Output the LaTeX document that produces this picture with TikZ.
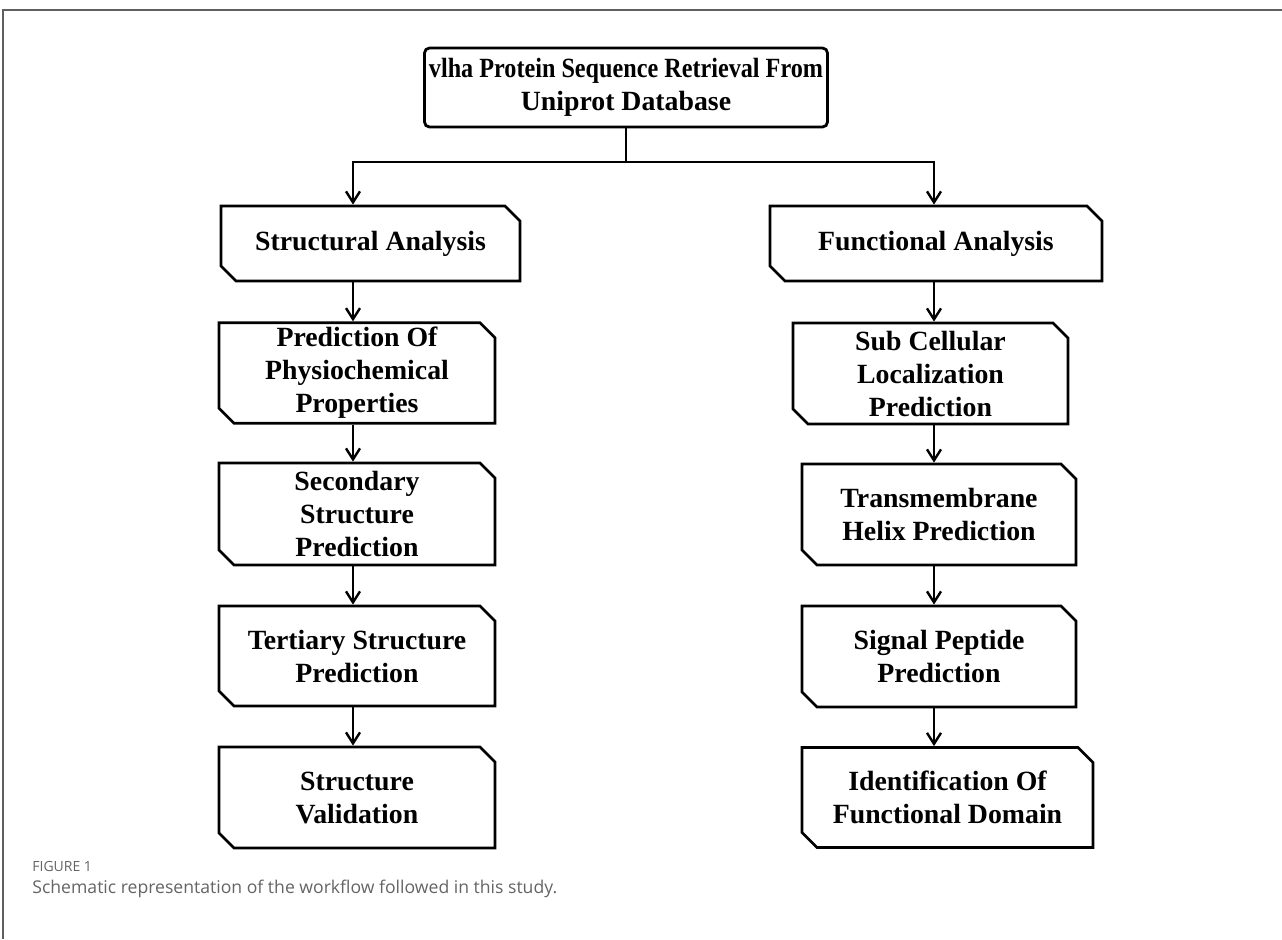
\documentclass[tikz,border=0pt]{standalone}
\usepackage{fontspec}
\setmainfont{Liberation Serif}
\newfontfamily\capfont{Open Sans}
\usetikzlibrary{shapes.misc,arrows.meta}

\definecolor{framegray}{RGB}{95,95,95}
\definecolor{capgray}{RGB}{100,100,100}

\tikzset{
  boxtext/.style={align=center, font=\bfseries\fontsize{13.9}{16.5}\selectfont},
  topbox/.style={boxtext, draw, rectangle, rounded corners=2.5pt, line width=1.4pt, inner sep=0pt},
  cutbox/.style={boxtext, draw, chamfered rectangle,
    chamfered rectangle corners={north east,south west},
    chamfered rectangle xsep=3.75pt, chamfered rectangle ysep=3.75pt,
    line width=1.4pt, inner xsep=0pt, inner ysep=-1.5pt},
  arr/.style={line width=1.2pt, -{Straight Barb[length=5.5pt,width=7pt,line width=1.2pt]}},
  link/.style={line width=1.2pt}
}

\begin{document}
\begin{tikzpicture}[x=0.5pt,y=-0.5pt]
        \useasboundingbox (0,0) rectangle (1282,939);

        % Frame round the figure
        \draw[framegray, line width=0.8pt] (1282,10) -- (3,10) -- (3,939);

        % Retrieval TextBox
        \node[topbox, minimum width=201.5pt, minimum height=39.5pt] (src) at (626,87.5) {\scalebox{0.87}[1]{vlha Protein Sequence Retrieval From}\\Uniprot Database};

        % Columns of arrows
        \coordinate (split) at (626,162);
        \coordinate (lcol) at (353,0);
        \coordinate (rcol) at (934,0);

        % Elements for Structural Analysis half
        \node[cutbox, minimum width=149.5pt, minimum height=37.5pt] (struct) at (370.5,243.5) {Structural Analysis};
        \node[cutbox, minimum width=138pt, minimum height=50pt] (physio) at (357,373) {Prediction Of\\Physiochemical\\Properties};
        \node[cutbox, minimum width=138pt, minimum height=51pt] (second) at (357,514) {Secondary\\Structure\\Prediction};
        \node[cutbox, minimum width=138pt, minimum height=50pt] (tert) at (357,656) {Tertiary Structure\\Prediction};
        \node[cutbox, minimum width=138pt, minimum height=50.5pt] (valid) at (357,797.5) {Structure\\Validation};

        % Elements for Functional Analysis half
        \node[cutbox, minimum width=166pt, minimum height=37.5pt] (func) at (936,243.5) {Functional Analysis};
        \node[cutbox, minimum width=137.5pt, minimum height=50.5pt] (subcell) at (930.5,373.5) {Sub Cellular\\Localization\\Prediction};
        \node[cutbox, minimum width=137pt, minimum height=50.5pt] (trans) at (939,514.5) {Transmembrane\\Helix Prediction};
        \node[cutbox, minimum width=137pt, minimum height=50.5pt] (signal) at (939,656.5) {Signal Peptide\\Prediction};
        \node[cutbox, minimum width=145.5pt, minimum height=50pt] (ident) at (947.5,797.5) {Identification Of\\Functional Domain};

        % Split from the top box
        \draw[link] (src.south) -- (split);
        \draw[arr] (split) -| (lcol |- struct.north);
        \draw[arr] (split) -| (rcol |- func.north);

        % Left chain
        \draw[arr] (lcol |- struct.south) -- (lcol |- physio.north);
        \draw[arr] (lcol |- physio.south) -- (lcol |- second.north);
        \draw[arr] (lcol |- second.south) -- (lcol |- tert.north);
        \draw[arr] (lcol |- tert.south) -- (lcol |- valid.north);

        % Right chain
        \draw[arr] (rcol |- func.south) -- (rcol |- subcell.north);
        \draw[arr] (rcol |- subcell.south) -- (rcol |- trans.north);
        \draw[arr] (rcol |- trans.south) -- (rcol |- signal.north);
        \draw[arr] (rcol |- signal.south) -- (rcol |- ident.north);

        % Caption
        \node[anchor=west, inner sep=0pt, text=capgray, font=\capfont\fontsize{7}{8}\selectfont] (fignum) at (32,866) {FIGURE 1};
        \node[anchor=west, inner sep=0pt, text=capgray, font=\capfont\fontsize{8.8}{10}\selectfont] (caption) at (32,889) {Schematic representation of the workflow followed in this study.};
    \end{tikzpicture}
\end{document}
